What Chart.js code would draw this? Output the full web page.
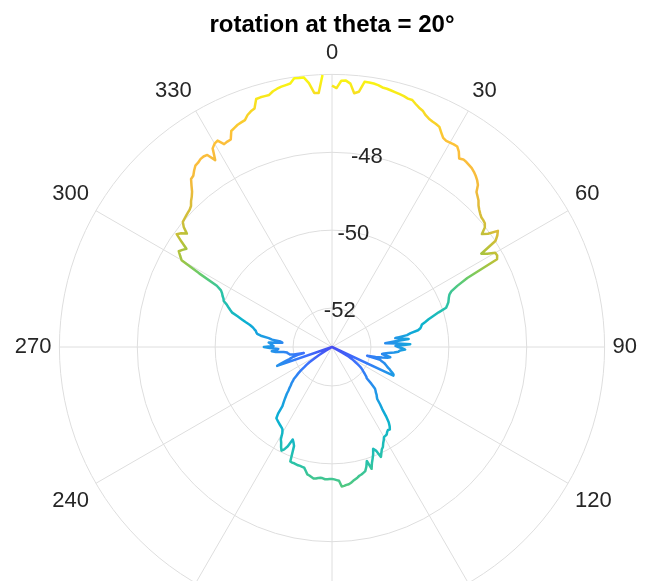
<!DOCTYPE html>
<html>
<head>
<meta charset="utf-8" />
<title>rotation at theta = 20°</title>
<style>
  html, body { margin: 0; padding: 0; background: #fff; }
  #frame { position: relative; width: 650px; height: 581px; overflow: hidden; }
  #chart { position: absolute; left: -21px; top: 0; }
</style>
</head>
<body>
<div id="frame"><canvas id="chart" width="706" height="654"></canvas></div>
<script src="https://cdn.jsdelivr.net/npm/chart.js@4.4.1/dist/chart.umd.min.js"></script>
<script>
// angular positions, degrees clockwise from the top (1 degree steps)
const thetaDeg = [
  0, 1, 2, 3, 4, 5, 6, 7, 8, 9, 10, 11, 12, 13, 14, 15, 16, 17, 18, 19,
  20, 21, 22, 23, 24, 25, 26, 27, 28, 29, 30, 31, 32, 33, 34, 35, 36, 37, 38, 39,
  40, 41, 42, 43, 44, 45, 46, 47, 48, 49, 50, 51, 52, 53, 54, 55, 56, 57, 58, 59,
  60, 61, 62, 63, 64, 65, 66, 67, 68, 69, 70, 71, 72, 73, 74, 75, 76, 77, 78, 79,
  80, 81, 82, 83, 84, 85, 86, 87, 88, 89, 90, 91, 92, 93, 94, 95, 96, 97, 98, 99,
  100, 101, 102, 103, 104, 105, 106, 107, 108, 109, 110, 111, 112, 113, 114, 115, 116, 117, 118, 119,
  120, 121, 122, 123, 124, 125, 126, 127, 128, 129, 130, 131, 132, 133, 134, 135, 136, 137, 138, 139,
  140, 141, 142, 143, 144, 145, 146, 147, 148, 149, 150, 151, 152, 153, 154, 155, 156, 157, 158, 159,
  160, 161, 162, 163, 164, 165, 166, 167, 168, 169, 170, 171, 172, 173, 174, 175, 176, 177, 178, 179,
  180, 181, 182, 183, 184, 185, 186, 187, 188, 189, 190, 191, 192, 193, 194, 195, 196, 197, 198, 199,
  200, 201, 202, 203, 204, 205, 206, 207, 208, 209, 210, 211, 212, 213, 214, 215, 216, 217, 218, 219,
  220, 221, 222, 223, 224, 225, 226, 227, 228, 229, 230, 231, 232, 233, 234, 235, 236, 237, 238, 239,
  240, 241, 242, 243, 244, 245, 246, 247, 248, 249, 250, 251, 252, 253, 254, 255, 256, 257, 258, 259,
  260, 261, 262, 263, 264, 265, 266, 267, 268, 269, 270, 271, 272, 273, 274, 275, 276, 277, 278, 279,
  280, 281, 282, 283, 284, 285, 286, 287, 288, 289, 290, 291, 292, 293, 294, 295, 296, 297, 298, 299,
  300, 301, 302, 303, 304, 305, 306, 307, 308, 309, 310, 311, 312, 313, 314, 315, 316, 317, 318, 319,
  320, 321, 322, 323, 324, 325, 326, 327, 328, 329, 330, 331, 332, 333, 334, 335, 336, 337, 338, 339,
  340, 341, 342, 343, 344, 345, 346, 347, 348, 349, 350, 351, 352, 353, 354, 355, 356, 357, 358, 359
];

// radius in dB, one per angle from 0 to 358 (the trace stops short of 359, so it stays open at the top)
const gainDb = [
  -46.29, -46.35, -46.16, -46.15, -46.22, -46.46, -46.41, -46.14, -46.14, -46.15,
  -46.17, -46.21, -46.22, -46.24, -46.26, -46.28, -46.30, -46.33, -46.33, -46.40,
  -46.46, -46.50, -46.58, -46.63, -46.66, -46.68, -46.71, -46.82, -46.92, -46.95,
  -46.94, -46.93, -46.93, -47.02, -47.16, -47.12, -47.13, -47.15, -47.17, -47.21,
  -47.26, -47.32, -47.40, -47.56, -47.62, -47.68, -47.77, -47.83, -47.88, -47.92,
  -47.93, -47.95, -48.02, -48.18, -48.05, -47.80, -47.88, -47.99, -48.48, -48.35,
  -48.16, -48.15, -48.20, -49.10, -49.42, -49.62, -49.70, -49.74, -49.77, -49.80,
  -49.85, -49.90, -50.12, -50.28, -50.42, -50.52, -50.62, -50.65, -50.68, -50.75,
  -50.95, -51.05, -51.36, -51.20, -51.02, -51.40, -51.63, -51.30, -50.99, -51.37,
  -51.30, -51.20, -51.12, -51.25, -51.29, -51.40, -51.55, -51.65, -51.70, -51.60,
  -51.48, -51.55, -51.69, -51.85, -52.07, -51.72, -51.67, -51.60, -51.56, -51.52,
  -51.48, -51.42, -51.38, -51.32, -51.27, -51.26, -53.00, -53.00, -53.00, -52.70,
  -52.50, -52.42, -52.35, -52.28, -52.20, -52.12, -52.06, -52.02, -51.98, -51.93,
  -51.88, -51.83, -51.80, -51.62, -51.47, -51.42, -51.38, -51.32, -51.28, -51.23,
  -51.08, -50.95, -50.75, -50.58, -50.48, -50.41, -50.43, -50.40, -50.35, -50.34,
  -50.33, -50.26, -50.20, -50.12, -50.08, -50.00, -49.91, -50.11, -50.18, -50.05,
  -49.95, -49.85, -49.71, -49.94, -49.80, -49.70, -49.67, -49.64, -49.62, -49.58,
  -49.55, -49.52, -49.48, -49.45, -49.44, -49.42, -49.41, -49.56, -49.58, -49.60,
  -49.61, -49.61, -49.60, -49.60, -49.62, -49.63, -49.62, -49.60, -49.59, -49.62,
  -49.65, -49.67, -49.75, -49.82, -49.83, -49.84, -49.84, -49.85, -49.86, -49.86,
  -49.87, -50.28, -50.36, -50.42, -50.21, -50.10, -50.04, -50.12, -50.22, -50.29,
  -50.45, -50.53, -50.56, -50.58, -50.60, -50.62, -50.64, -50.66, -50.68, -50.80,
  -51.02, -51.10, -51.18, -51.26, -51.33, -51.42, -51.48, -51.55, -51.60, -51.67,
  -51.72, -51.82, -51.90, -52.00, -52.12, -52.20, -52.30, -52.45, -52.60, -52.80,
  -53.00, -53.00, -53.00, -53.00, -53.00, -53.00, -53.00, -53.00, -53.00, -53.00,
  -53.00, -51.51, -51.62, -51.75, -51.85, -51.92, -51.99, -52.10, -52.26, -52.00,
  -51.90, -51.88, -51.85, -51.84, -51.75, -51.55, -51.45, -51.59, -51.62, -51.40,
  -51.25, -51.50, -51.45, -51.42, -51.37, -51.72, -51.67, -51.45, -51.36, -51.15,
  -51.05, -51.02, -51.00, -50.95, -50.90, -50.82, -50.70, -50.58, -50.45, -50.29,
  -50.22, -50.15, -50.08, -49.98, -49.95, -49.90, -49.86, -49.80, -49.65, -49.10,
  -48.54, -48.45, -48.36, -48.42, -48.49, -48.28, -48.07, -48.15, -48.27, -48.10,
  -48.00, -47.98, -47.96, -47.94, -47.92, -47.88, -47.79, -47.72, -47.63, -47.50,
  -47.37, -47.34, -47.25, -47.17, -47.15, -47.11, -47.10, -47.12, -47.34, -47.05,
  -46.97, -46.94, -47.10, -47.08, -47.07, -46.88, -46.84, -46.80, -46.78, -46.76,
  -46.66, -46.60, -46.56, -46.34, -46.33, -46.33, -46.33, -46.26, -46.22, -46.19,
  -46.17, -46.15, -46.03, -46.04, -46.04, -46.20, -46.46, -46.47, -46.01
];

const thetaTicks = [0, 30, 60, 90, 120, 150, 180, 210, 240, 270, 300, 330];
const rTicks = [-52, -50, -48];
const rMin = -53;
const rMax = -46;

// line colour follows the radius through a parula-like map
const colorMin = -53.8;
const colorMax = -46;
const parula = [
  [0.00, 62, 38, 168],
  [0.10, 71, 75, 239],
  [0.20, 60, 113, 253],
  [0.30, 35, 147, 234],
  [0.40, 10, 177, 210],
  [0.50, 40, 194, 170],
  [0.60, 105, 204, 105],
  [0.70, 180, 194, 55],
  [0.80, 240, 186, 60],
  [0.87, 253, 190, 60],
  [0.93, 247, 218, 35],
  [1.00, 249, 251, 14]
];

function parulaColor(v) {
  let t = (v - colorMin) / (colorMax - colorMin);
  t = Math.max(0, Math.min(1, t));
  for (let i = 1; i < parula.length; i++) {
    const a = parula[i - 1], b = parula[i];
    if (t <= b[0]) {
      const f = (t - a[0]) / (b[0] - a[0]);
      const c = [1, 2, 3].map(k => Math.round(a[k] + (b[k] - a[k]) * f));
      return 'rgb(' + c.join(',') + ')';
    }
  }
  return 'rgb(249,251,14)';
}

Chart.defaults.font.family = "'Liberation Sans', Arial, sans-serif";

const canvas = document.getElementById('chart');

// radial gradient built on the r scale, so colour = f(radius value)
function radiusGradient(c) {
  const s = c.chart.scales.r;
  if (!s) return parulaColor(-50);
  const top = rMax + 0.3;
  const outer = s.getDistanceFromCenterForValue(top);
  if (!isFinite(outer) || outer <= 0) return parulaColor(-50);
  const g = c.chart.ctx.createRadialGradient(s.xCenter, s.yCenter, 0, s.xCenter, s.yCenter, outer);
  const n = 40;
  for (let k = 0; k <= n; k++) {
    const v = rMin + (top - rMin) * k / n;
    g.addColorStop(k / n, parulaColor(v));
  }
  return g;
}

// r tick labels sit along the 10 degree ray, as in the original
const rTickLabels = {
  id: 'rTickLabels',
  afterDraw(chart) {
    const scale = chart.scales.r;
    const ctx = chart.ctx;
    ctx.save();
    ctx.font = "22px 'Liberation Sans', Arial, sans-serif";
    ctx.fillStyle = '#262626';
    ctx.textAlign = 'center';
    ctx.textBaseline = 'middle';
    rTicks.forEach(v => {
      const p = scale.getPointPosition(0, scale.getDistanceFromCenterForValue(v), Math.PI / 18);
      ctx.fillText(String(v), p.x + 1, p.y + 2);
    });
    ctx.restore();
  }
};

new Chart(canvas, {
  type: 'radar',
  data: {
    labels: thetaDeg,
    datasets: [{
      data: gainDb,
      fill: false,
      borderWidth: 2.5,
      borderColor: radiusGradient,
      pointRadius: 0,
      pointHoverRadius: 0,
      borderJoinStyle: 'round'
    }]
  },
  options: {
    responsive: false,
    animation: false,
    devicePixelRatio: 1,
    plugins: {
      legend: { display: false },
      tooltip: { enabled: false },
      title: {
        display: true,
        text: 'rotation at theta = 20°',
        color: '#000',
        font: { size: 24, weight: 'bold', lineHeight: '30px' },
        padding: { top: 10, bottom: 0 }
      }
    },
    scales: {
      r: {
        min: rMin,
        max: rMax,
        ticks: { display: false, stepSize: 2 },
        grid: { circular: true, color: '#dedede', lineWidth: 1 },
        angleLines: {
          color: '#dedede',
          lineWidth: c => thetaTicks.includes(thetaDeg[c.index]) ? 1 : 0
        },
        pointLabels: {
          padding: 8,
          color: '#262626',
          font: { size: 22 },
          callback: label => thetaTicks.includes(label) ? String(label) : ''
        }
      }
    }
  },
  plugins: [rTickLabels]
});
</script>
</body>
</html>
